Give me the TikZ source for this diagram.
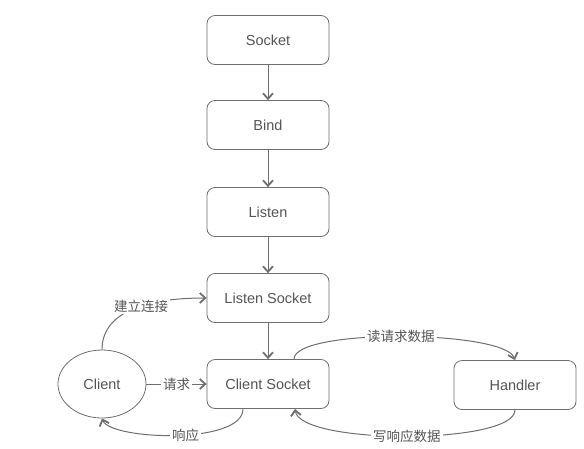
\documentclass[tikz,border=0pt]{standalone}
\usepackage{fontspec}
\setmainfont{Liberation Sans}
\newfontfamily\cjk{Noto Sans CJK SC}
\usepackage{xcolor}
\usepackage{tikz}
\usetikzlibrary{arrows.meta, shapes.geometric}

\definecolor{linegray}{HTML}{6E6E6E}
\definecolor{textgray}{HTML}{555555}

\begin{document}
\begin{tikzpicture}[x=1pt, y=-1pt, font=\fontsize{14.5}{16}\selectfont, text=textgray]
    \tikzstyle{stage} = [rectangle, rounded corners=8pt, draw=linegray, line width=0.8pt, fill=white, minimum width=122pt, minimum height=49pt, inner sep=0pt]
    \tikzstyle{peer} = [ellipse, draw=linegray, line width=0.8pt, minimum width=88pt, minimum height=68pt, inner sep=0pt]
    \tikzstyle{flow} = [draw=linegray, line width=1pt, -{Straight Barb[length=5.5pt, width=10pt, line width=1.8pt]}]
    \tikzstyle{tag} = [fill=white, inner sep=2pt, font=\cjk\fontsize{13.5}{16}\selectfont]
    \useasboundingbox (0,0) rectangle (584,448);
    \node[stage] (sock) at (268, 40) {Socket};
    \node[stage] (bind) at (268, 125) {Bind};
    \node[stage] (listen) at (268, 212) {Listen};
    \node[stage] (lsock) at (268, 298) {Listen Socket};
    \node[stage] (csock) at (268, 384) {Client Socket};
    \node[stage] (handler) at (515, 385) {Handler};
    \node[peer] (client) at (102, 384) {Client};
    \draw[flow] (sock) -- (bind);
    \draw[flow] (bind) -- (listen);
    \draw[flow] (listen) -- (lsock);
    \draw[flow] (lsock) -- (csock);
    % client side
    \draw[flow] (client.north) .. controls (102, 315) and (140, 298) .. (lsock.west)
        node[tag, pos=0.6] {建立连接};
    \draw[flow] (client) -- (csock) node[tag, midway] {请求};
    \draw[flow] ([xshift=-25pt]csock.south) .. controls (243, 445) and (110, 440) .. (client.south)
        node[tag, pos=0.45] {响应};
    % handler side
    \draw[flow] ([xshift=26pt]csock.north) .. controls (294, 328) and (505, 330) .. (handler.north)
        node[tag, pos=0.5] {读请求数据};
    \draw[flow] (handler.south) .. controls (515, 445) and (300, 445) .. ([xshift=27pt]csock.south)
        node[tag, pos=0.5] {写响应数据};
\end{tikzpicture}
\end{document}
